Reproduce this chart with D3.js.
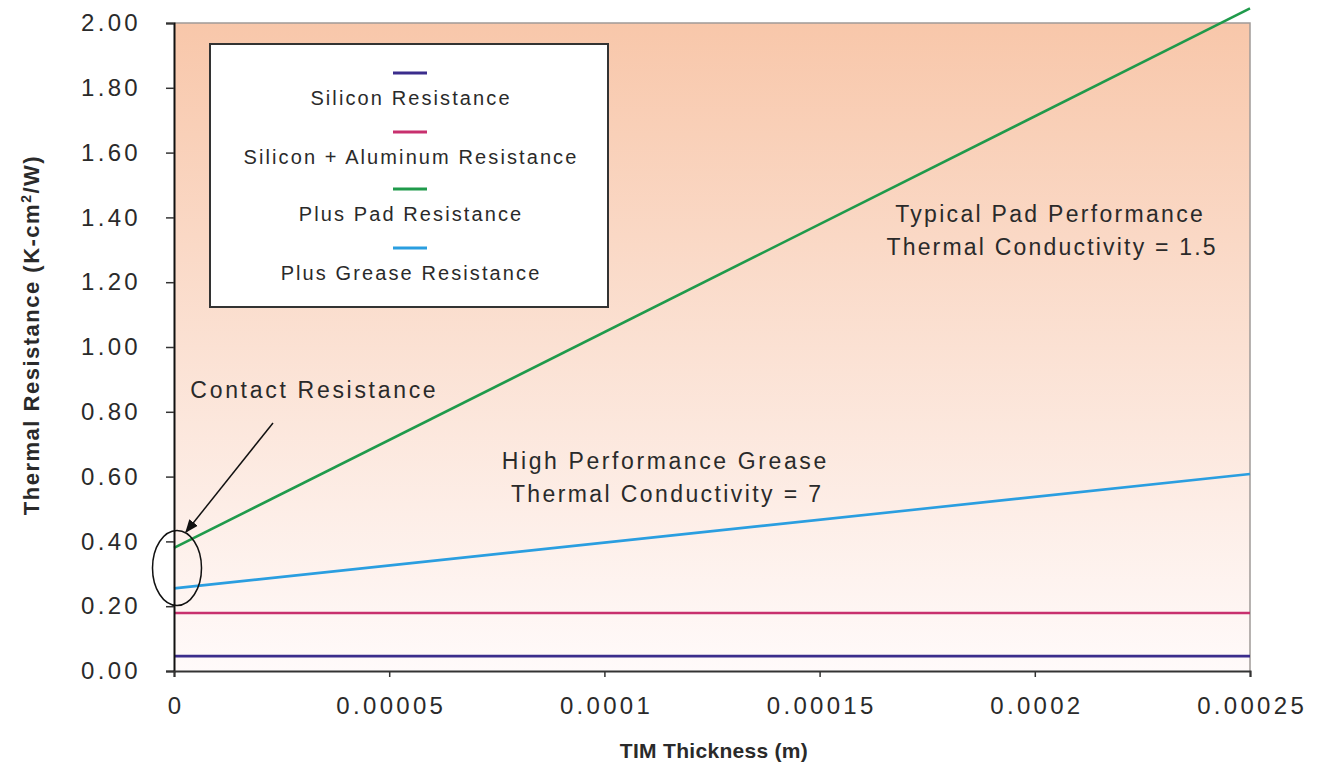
<!DOCTYPE html>
<html><head><meta charset="utf-8">
<script src="https://cdn.jsdelivr.net/npm/d3@7"></script>
<style>
body{margin:0;background:#fff;}
text{font-family:"Liberation Sans",Arial,sans-serif;fill:#2a2a2a;}
</style></head>
<body><svg id="c" width="1326" height="778"></svg>
<script>
// ---- data ----
const thickness = [0, 0.00025];
const seriesNames = ["Silicon Resistance","Silicon + Aluminum Resistance","Plus Pad Resistance","Plus Grease Resistance"];
const siliconValues = [0.046, 0.046];
const siliconAlValues = [0.179, 0.179];
const padValues = [0.38, 2.045];
const greaseValues = [0.255, 0.608];
const seriesColors = ["#3b2d8c","#c8306e","#1f9a4b","#2a9ee0"];
const yTicks = [0,0.2,0.4,0.6,0.8,1.0,1.2,1.4,1.6,1.8,2.0];
const xTicks = [0,0.00005,0.0001,0.00015,0.0002,0.00025];
const xTickLabels = ["0","0.00005","0.0001","0.00015","0.0002","0.00025"];

const svg = d3.select("#c");
const L=174, R=1250, T=23, B=671;
const x = d3.scaleLinear().domain([0,0.00025]).range([L,R]);
const y = d3.scaleLinear().domain([0,2]).range([B,T]);

// gradient background
const defs = svg.append("defs");
const g = defs.append("linearGradient").attr("id","bg").attr("x1",0).attr("y1",0).attr("x2",0).attr("y2",1);
g.append("stop").attr("offset","0%").attr("stop-color","#f8c7aa");
g.append("stop").attr("offset","50%").attr("stop-color","#fbe1d3");
g.append("stop").attr("offset","100%").attr("stop-color","#fffafa");
svg.append("rect").attr("x",L).attr("y",T).attr("width",R-L).attr("height",B-T).attr("fill","url(#bg)");
// top and right border
svg.append("path").attr("d",`M${L},${T}H${R}V${B}`).attr("fill","none").attr("stroke","#a09a98").attr("stroke-width",1.5);

defs.append("marker").attr("id","arr").attr("viewBox","0 0 10 10").attr("refX",9).attr("refY",5)
  .attr("markerWidth",9).attr("markerHeight",9).attr("orient","auto")
  .append("path").attr("d","M0,1L10,5L0,9Z").attr("fill","#111");

// series lines
const allSeries = [siliconValues, siliconAlValues, padValues, greaseValues];
const line = d3.line().x((d,i)=>x(thickness[i])).y(d=>y(d));
allSeries.forEach((vals,i)=>{
  svg.append("path").datum(vals).attr("d",line).attr("fill","none")
    .attr("stroke",seriesColors[i]).attr("stroke-width",2.6);
});

// axes
const yAxis = d3.axisLeft(y).tickValues(yTicks).tickFormat(d3.format(".2f")).tickSize(8).tickPadding(25);
const ya = svg.append("g").attr("transform",`translate(${L},0)`).call(yAxis);
ya.select(".domain").attr("stroke","#111").attr("stroke-width",2);
ya.selectAll(".tick line").attr("stroke","#333").attr("stroke-width",1.5);
ya.selectAll(".tick text").attr("font-size",24).attr("letter-spacing","3.3px").attr("fill","#3a3a3a")
  .attr("font-family","Liberation Sans, Arial, sans-serif");

const xAxis = d3.axisBottom(x).tickValues(xTicks).tickFormat((d,i)=>xTickLabels[i]).tickSize(6).tickPadding(20);
const xa = svg.append("g").attr("transform",`translate(0,${B})`).call(xAxis);
xa.select(".domain").attr("stroke","#333").attr("stroke-width",2);
xa.selectAll(".tick line").attr("stroke","#333").attr("stroke-width",1.5);
xa.selectAll(".tick text").attr("font-size",24).attr("letter-spacing","3.3px").attr("fill","#3a3a3a")
  .attr("dx","1.6px").attr("font-family","Liberation Sans, Arial, sans-serif");

// axis titles
svg.append("text").attr("x",714).attr("y",758).attr("text-anchor","middle")
  .attr("font-size",21).attr("font-weight","bold").attr("letter-spacing","0.3px").attr("fill","#111").text("TIM Thickness (m)");
const yt = svg.append("text").attr("transform","translate(39,335) rotate(-90)").attr("text-anchor","middle")
  .attr("font-size",22).attr("font-weight","bold").attr("letter-spacing","1.5px").attr("fill","#111");
yt.append("tspan").text("Thermal Resistance (K-cm");
yt.append("tspan").attr("font-size",14).attr("dy",-8).text("2");
yt.append("tspan").attr("dy",8).text("/W)");

// legend
svg.append("rect").attr("x",210).attr("y",44).attr("width",398).attr("height",263)
  .attr("fill","#fff").attr("stroke","#333").attr("stroke-width",2);
const legY = [73,132,189,248];
seriesNames.forEach((n,i)=>{
  svg.append("line").attr("x1",393).attr("x2",427).attr("y1",legY[i]).attr("y2",legY[i])
    .attr("stroke",seriesColors[i]).attr("stroke-width",3);
  svg.append("text").attr("x",411).attr("y",legY[i]+32).attr("text-anchor","middle")
    .attr("font-size",20).attr("letter-spacing","2.1px").attr("fill","#333").text(n);
});

// annotations
function ann(txt,cx,cy,ls){
  svg.append("text").attr("x",cx+ls/2).attr("y",cy).attr("text-anchor","middle").attr("dominant-baseline","middle")
    .attr("font-size",23).attr("letter-spacing",ls+"px").attr("fill","#333").text(txt);
}
ann("Contact Resistance",313,392,2.7);
ann("High Performance Grease",664,463,2.6);
ann("Thermal Conductivity = 7",666,496,2.4);
ann("Typical Pad Performance",1049,216,2.3);
ann("Thermal Conductivity = 1.5",1051,249,2.2);

svg.append("line").attr("x1",273).attr("y1",423).attr("x2",186).attr("y2",532)
  .attr("stroke","#111").attr("stroke-width",1.5).attr("marker-end","url(#arr)");
svg.append("ellipse").attr("cx",177).attr("cy",568).attr("rx",24.5).attr("ry",37.5)
  .attr("fill","none").attr("stroke","#111").attr("stroke-width",1.5);
</script></body></html>
